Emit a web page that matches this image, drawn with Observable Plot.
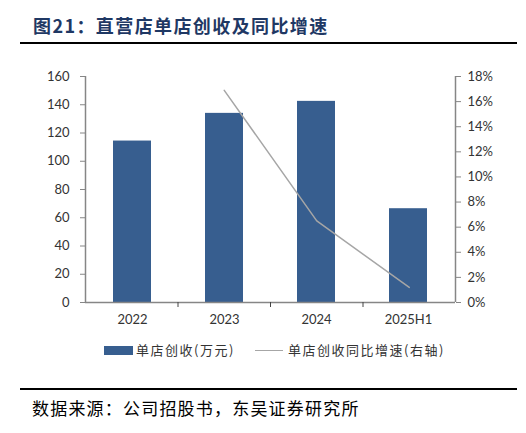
<!DOCTYPE html>
<html><head><meta charset="utf-8">
<script src="https://cdn.jsdelivr.net/npm/d3@7"></script>
<script src="https://cdn.jsdelivr.net/npm/@observablehq/plot@0.6"></script>
<style>
body{margin:0;background:#fff;width:526px;height:433px;position:relative;overflow:hidden;font-family:"Noto Sans CJK SC",sans-serif}
#title{position:absolute;left:33px;top:13px;font-size:18px;line-height:24px;font-weight:bold;color:#1F3864;letter-spacing:1.4px;white-space:nowrap}
.hr{position:absolute;left:20px;width:497px;height:2px;background:#000}
#chart{position:absolute;left:0;top:50px;width:526px;height:290px}
#chart svg{position:absolute;left:0;top:0;background:transparent}
.lg{position:absolute;font-size:13px;line-height:16px;color:#333;letter-spacing:1.5px;white-space:nowrap}
#source{position:absolute;left:32px;top:397px;font-size:17px;line-height:22px;color:#000;letter-spacing:1.2px;white-space:nowrap}
</style></head>
<body>
<div id="title">图21：直营店单店创收及同比增速</div>
<div class="hr" style="top:42px"></div>
<div id="chart"></div>
<div id="legend"></div>
<div class="hr" style="top:388px"></div>
<div id="source">数据来源：公司招股书，东吴证券研究所</div>
<script>
const categories = ["2022", "2023", "2024", "2025H1"];
const revenue = [114.3, 133.9, 142.4, 66.4];          // 单店创收(万元)
const growth = [null, 0.169, 0.065, 0.012];           // 同比增速(右轴)
const leftTicks = [0, 20, 40, 60, 80, 100, 120, 140, 160];
const rightTicks = [0, 0.02, 0.04, 0.06, 0.08, 0.10, 0.12, 0.14, 0.16, 0.18];
const seriesNames = ["单店创收(万元)", "单店创收同比增速(右轴)"];

const barColor = "#375E8F";
const lineColor = "#A6A6A6";
const axisColor = "#868686";
const textColor = "#333333";

const W = 526, H = 290;
const margins = {marginLeft: 85, marginRight: 71, marginTop: 26, marginBottom: 38};
const barData = categories.map((c, i) => ({cat: c, v: revenue[i]}));
const lineData = categories.map((c, i) => ({idx: i + 0.5, g: growth[i]})).filter(d => d.g != null);

const chart = document.getElementById("chart");

const p1 = Plot.plot({
  width: W, height: H, ...margins,
  style: {fontFamily: "Lato, sans-serif", fontSize: "13px", color: textColor, background: "transparent"},
  x: {type: "band", domain: categories, paddingInner: 0.59, paddingOuter: 0.295},
  y: {domain: [0, 160]},
  marks: [
    Plot.barY(barData, {x: "cat", y: "v", fill: barColor}),
    Plot.axisX({tickSize: 0, tickPadding: 12, fill: textColor, label: null}),
    Plot.axisY({ticks: leftTicks, tickSize: 5, stroke: axisColor, tickPadding: 11, fill: textColor, label: null})
  ]
});

const p2 = Plot.plot({
  width: W, height: H, ...margins,
  style: {fontFamily: "Lato, sans-serif", fontSize: "13px", color: textColor, background: "transparent"},
  x: {type: "linear", domain: [0, categories.length]},
  y: {domain: [0, 0.18]},
  marks: [
    Plot.ruleY([0], {stroke: axisColor, strokeWidth: 1.5}),
    Plot.ruleX([0, categories.length], {stroke: axisColor, strokeWidth: 1.5}),
    Plot.axisX({ticks: d3.range(1, categories.length), tickSize: 5, stroke: "#444", tickFormat: () => "", label: null}),
    Plot.axisY({anchor: "right", ticks: rightTicks, tickSize: 5, stroke: axisColor, tickPadding: 7, fill: textColor, tickFormat: d3.format(".0%"), label: null}),
    Plot.lineY(lineData, {x: "idx", y: "g", stroke: lineColor, strokeWidth: 1.5})
  ]
});

chart.appendChild(p1);
chart.appendChild(p2);

const legend = document.getElementById("legend");
legend.innerHTML =
  `<div style="position:absolute;left:104px;top:346px;width:29px;height:9px;background:${barColor}"></div>` +
  `<div class="lg" style="left:136px;top:342px">${seriesNames[0]}</div>` +
  `<div style="position:absolute;left:255px;top:350px;width:28px;height:1px;background:${lineColor}"></div>` +
  `<div class="lg" style="left:288px;top:342px">${seriesNames[1]}</div>`;
</script>
</body></html>
